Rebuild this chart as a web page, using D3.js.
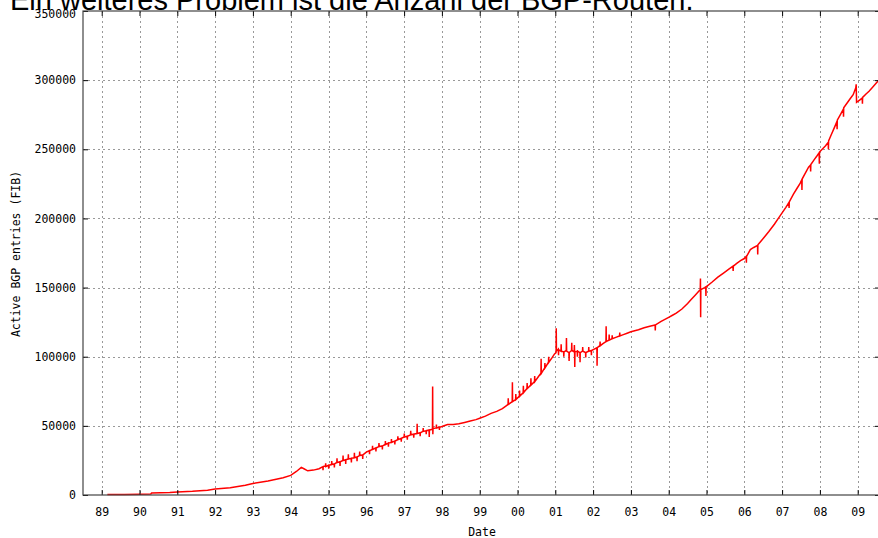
<!DOCTYPE html>
<html>
<head>
<meta charset="utf-8">
<script src="https://cdn.jsdelivr.net/npm/d3@7"></script>
<style>
  html, body { margin: 0; padding: 0; background: #fff; }
  svg { display: block; }
</style>
</head>
<body>
<svg id="chart" width="878" height="538"></svg>
<script>
// ---- data ----
const titleText = "Ein weiteres Problem ist die Anzahl der BGP-Routen.";
const yAxisTitle = "Active BGP entries (FIB)";
const xAxisTitle = "Date";

const tickYears = [1989,1990,1991,1992,1993,1994,1995,1996,1997,1998,1999,2000,2001,2002,2003,2004,2005,2006,2007,2008,2009];
const tickLabels = ["89","90","91","92","93","94","95","96","97","98","99","00","01","02","03","04","05","06","07","08","09"];
const yTicks = [0,50000,100000,150000,200000,250000,300000,350000];

// date (decimal year) and active BGP entries
const dates = [
  // 1989-1994 smooth growth
  1989.15,1989.6,1990.0,1990.3,1990.32,1990.8,1991.0,1991.4,1991.8,1992.0,
  1992.4,1992.8,1993.0,1993.4,1993.8,1994.0,1994.15,1994.28,1994.35,1994.45,1994.6,1994.75,
  // 1994.8-1996 noisy band
  1994.85,1994.855,1994.86,1994.92,1994.925,1994.93,1995.0,1995.005,1995.01,
  1995.08,1995.085,1995.09,1995.15,1995.155,1995.16,1995.22,1995.225,1995.23,
  1995.3,1995.305,1995.31,1995.38,1995.385,1995.39,1995.45,1995.455,1995.46,
  1995.52,1995.525,1995.53,1995.6,1995.605,1995.61,1995.68,1995.685,1995.69,
  1995.75,1995.755,1995.76,1995.82,1995.825,1995.83,1995.9,1995.905,1995.91,
  // 1996-1998
  1996.0,1996.08,1996.085,1996.09,1996.16,1996.165,1996.17,1996.25,1996.255,1996.26,
  1996.33,1996.335,1996.34,1996.42,1996.425,1996.43,1996.5,1996.505,1996.51,
  1996.58,1996.585,1996.59,1996.66,1996.665,1996.67,1996.75,1996.755,1996.76,
  1996.83,1996.835,1996.84,1996.92,1996.925,1996.93,1997.0,1997.005,1997.01,
  1997.08,1997.085,1997.09,1997.17,1997.175,1997.18,1997.25,1997.255,1997.26,
  1997.34,1997.345,1997.35,1997.42,1997.425,1997.43,1997.5,1997.505,1997.51,
  1997.58,1997.585,1997.59,1997.66,1997.665,1997.67,1997.75,1997.755,1997.76,1997.765,
  1997.85,1997.855,1997.86,1997.93,1997.935,1997.94,
  // 1998-2001
  1998.0,1998.15,1998.3,1998.45,1998.6,1998.75,1998.9,1999.0,1999.15,1999.3,1999.45,
  1999.6,1999.7,1999.75,1999.755,1999.76,1999.86,1999.865,1999.87,1999.95,1999.955,1999.96,
  2000.05,2000.055,2000.06,2000.15,2000.155,2000.16,2000.25,2000.255,2000.26,
  2000.35,2000.355,2000.36,2000.45,2000.455,2000.46,2000.55,2000.62,2000.625,2000.63,
  2000.72,2000.725,2000.73,2000.82,2000.825,2000.83,2000.92,2000.98,
  // 2001-2002.7 plateau
  2001.02,2001.025,2001.03,2001.08,2001.085,2001.09,2001.15,2001.155,2001.16,
  2001.22,2001.225,2001.23,2001.29,2001.295,2001.3,2001.36,2001.365,2001.37,
  2001.43,2001.435,2001.44,2001.5,2001.505,2001.51,2001.515,2001.52,
  2001.58,2001.585,2001.59,2001.65,2001.655,2001.66,2001.72,2001.725,2001.73,
  2001.8,2001.805,2001.81,2001.88,2001.885,2001.89,2001.95,2001.955,2001.96,
  2002.03,2002.1,2002.105,2002.11,2002.18,2002.185,2002.19,2002.26,
  2002.34,2002.345,2002.35,2002.42,2002.425,2002.43,2002.5,2002.505,2002.51,
  2002.6,2002.7,2002.705,2002.71,2002.8,2002.9,
  // 2003-2007
  2003.0,2003.2,2003.35,2003.5,2003.64,2003.645,2003.65,2003.8,2003.9,2004.0,2004.1,
  2004.2,2004.35,2004.5,2004.6,2004.7,2004.8,2004.835,2004.84,2004.845,2004.85,
  2004.95,2004.98,2004.985,2004.99,2005.15,2005.3,2005.45,2005.6,2005.7,2005.705,2005.71,
  2005.8,2005.9,2006.0,2006.05,2006.055,2006.06,2006.16,2006.25,2006.35,2006.355,2006.36,
  2006.5,2006.65,2006.8,2006.9,
  // 2007-2009.6
  2007.0,2007.1,2007.18,2007.185,2007.19,2007.3,2007.4,2007.48,2007.52,2007.525,2007.53,
  2007.6,2007.7,2007.75,2007.755,2007.76,2007.85,2007.93,2007.98,2007.985,2007.99,
  2008.08,2008.15,2008.22,2008.225,2008.23,2008.3,2008.38,2008.45,2008.455,2008.46,
  2008.55,2008.62,2008.625,2008.63,2008.72,2008.8,2008.88,2008.95,2008.96,2008.97,
  2009.05,2009.12,2009.125,2009.13,2009.22,2009.3,2009.4,2009.48,2009.56
];
const entries = [
  300,400,500,700,1500,1800,2200,2700,3500,4400,
  5300,7000,8300,10200,12500,14200,17000,20000,19000,17500,18000,19000,
  20500,18000,20500,21000,23000,20500,21500,19000,21500,
  22000,24500,22000,22500,20000,22500,23500,26500,23500,
  24000,21000,24000,25000,28500,25000,25500,22500,25500,
  26000,29500,26000,26500,23500,26500,27000,30500,27000,
  27500,24500,27500,28500,31500,28500,29000,26000,29000,
  31000,32000,29500,32000,33000,35500,33000,34000,31500,34000,
  35000,37500,35000,35500,33000,35500,36500,39000,36500,
  37500,35000,37500,38000,40500,38000,39000,36500,39000,
  40000,42500,40000,41000,38500,41000,42000,44500,42000,
  42500,40000,42500,43500,46500,43500,44000,41500,44000,
  44500,51500,44500,45000,42500,45000,46000,48500,46000,
  46500,44000,46500,47000,42000,47000,47500,78500,44000,48000,
  48500,51000,48500,49000,47000,49000,
  49500,51000,51000,51500,52500,53500,54500,55500,57000,59000,60500,
  62500,64500,65500,70000,65500,67500,81500,67500,69000,73000,69000,
  71500,75500,71500,74000,79000,74000,77000,81000,77000,
  79500,84500,79500,82000,86000,82000,85500,88000,98500,88000,
  92000,95500,92000,96000,100000,96000,99500,102000,
  103000,120500,104000,105500,101000,105000,104000,109000,104000,
  103500,100000,103500,104500,113500,104000,103000,97000,103000,
  104500,110000,104500,103500,108500,103000,92500,103500,
  104000,100000,104000,103000,96000,103000,104000,107000,104000,
  103000,99500,103000,104000,107000,104000,104500,101000,104500,
  105500,106500,93500,106500,108000,111000,108000,109500,
  111000,122000,111000,112000,116000,112000,113000,115500,113000,
  114000,115000,117500,115000,116000,117000,
  118000,119500,121000,122000,123000,119000,123000,125500,127000,128500,130000,
  131500,134500,138500,141500,144500,147500,148500,156500,128500,148500,
  150000,150500,144000,150500,154000,157500,160500,163500,165500,162000,165500,
  167500,169500,171000,172500,168000,172500,177500,179000,180500,174000,181000,
  185500,190500,196000,200000,
  204000,208000,211500,207500,212000,217500,222000,225500,228000,220500,228500,
  232000,237000,238500,234000,239000,242500,245500,247500,239500,248000,
  250500,252500,255000,250000,256000,260500,265500,270000,264500,271000,
  275500,279000,273500,280000,283500,286500,289500,294500,297000,284000,
  285500,287000,283000,287500,290000,292000,295000,297500,300000
];

// ---- layout ----
const svg = d3.select("#chart");
const plotLeft = 83, plotRight = 880, plotTop = 11, plotBottom = 495;
const x = d3.scaleLinear().domain([1988.505, 2009.59]).range([plotLeft, plotRight]);
const y = d3.scaleLinear().domain([0, 350000]).range([plotBottom, plotTop]);
const monoFont = "'DejaVu Sans Mono', 'Liberation Mono', monospace";

svg.append("rect").attr("width", 878).attr("height", 538).attr("fill", "#fff");

// grid
const grid = svg.append("g").attr("stroke", "#999").attr("stroke-width", 1).attr("stroke-dasharray", "2,3");
grid.selectAll("line.v").data(tickYears).enter().append("line")
  .attr("x1", d => Math.round(x(d)) + 0.5).attr("x2", d => Math.round(x(d)) + 0.5)
  .attr("y1", plotTop).attr("y2", plotBottom);
grid.selectAll("line.h").data(yTicks.filter(d => d > 0 && d < 350000)).enter().append("line")
  .attr("y1", d => Math.round(y(d)) + 0.5).attr("y2", d => Math.round(y(d)) + 0.5)
  .attr("x1", plotLeft).attr("x2", plotRight);

// data line
const line = d3.line().x((d, i) => x(dates[i])).y((d, i) => y(entries[i]));
svg.append("path").datum(entries)
  .attr("d", line).attr("fill", "none").attr("stroke", "#ff0000").attr("stroke-width", 1.5)
  .attr("stroke-linejoin", "miter");

// axes
const fmt = d => tickLabels[tickYears.indexOf(d)];
const gx = svg.append("g").attr("transform", `translate(0,${plotBottom})`)
  .call(d3.axisBottom(x).tickValues(tickYears).tickFormat(fmt).tickSizeInner(-5).tickSizeOuter(0).tickPadding(13));
const gxt = svg.append("g").attr("transform", `translate(0,${plotTop})`)
  .call(d3.axisTop(x).tickValues(tickYears).tickFormat("").tickSizeInner(-5).tickSizeOuter(0));
const gy = svg.append("g").attr("transform", `translate(${plotLeft},0)`)
  .call(d3.axisLeft(y).tickValues(yTicks).tickFormat(d => String(d)).tickSizeInner(-5).tickSizeOuter(0).tickPadding(7));
const gyr = svg.append("g").attr("transform", `translate(${plotRight},0)`)
  .call(d3.axisRight(y).tickValues(yTicks).tickFormat("").tickSizeInner(-5).tickSizeOuter(0));

[gx, gxt, gy, gyr].forEach(g => {
  g.select(".domain").remove();
  g.selectAll(".tick line").attr("stroke", "#000");
  g.selectAll("text").attr("font-family", monoFont).attr("font-size", 11.5).attr("fill", "#000");
});
// top label sits a little lower in the reference, just under the slide title
gy.selectAll(".tick").filter(d => d === 350000).select("text").attr("y", 2.5);

// frame
svg.append("rect").attr("x", plotLeft).attr("y", plotTop).attr("width", plotRight - plotLeft).attr("height", plotBottom - plotTop)
  .attr("fill", "none").attr("stroke", "#444").attr("stroke-width", 1.2);

// axis titles
svg.append("text").attr("x", 482).attr("y", 536).attr("text-anchor", "middle")
  .attr("font-family", monoFont).attr("font-size", 11.5).text(xAxisTitle);
svg.append("text").attr("transform", "translate(20,254) rotate(-90)").attr("text-anchor", "middle")
  .attr("font-family", monoFont).attr("font-size", 11.5).text(yAxisTitle);

// title (partially cut off at top, as in reference)
svg.append("text").attr("x", 10).attr("y", 10)
  .attr("font-family", "'Liberation Sans', Arial, sans-serif").attr("font-size", 29).attr("fill", "#000")
  .text(titleText);
</script>
</body>
</html>
